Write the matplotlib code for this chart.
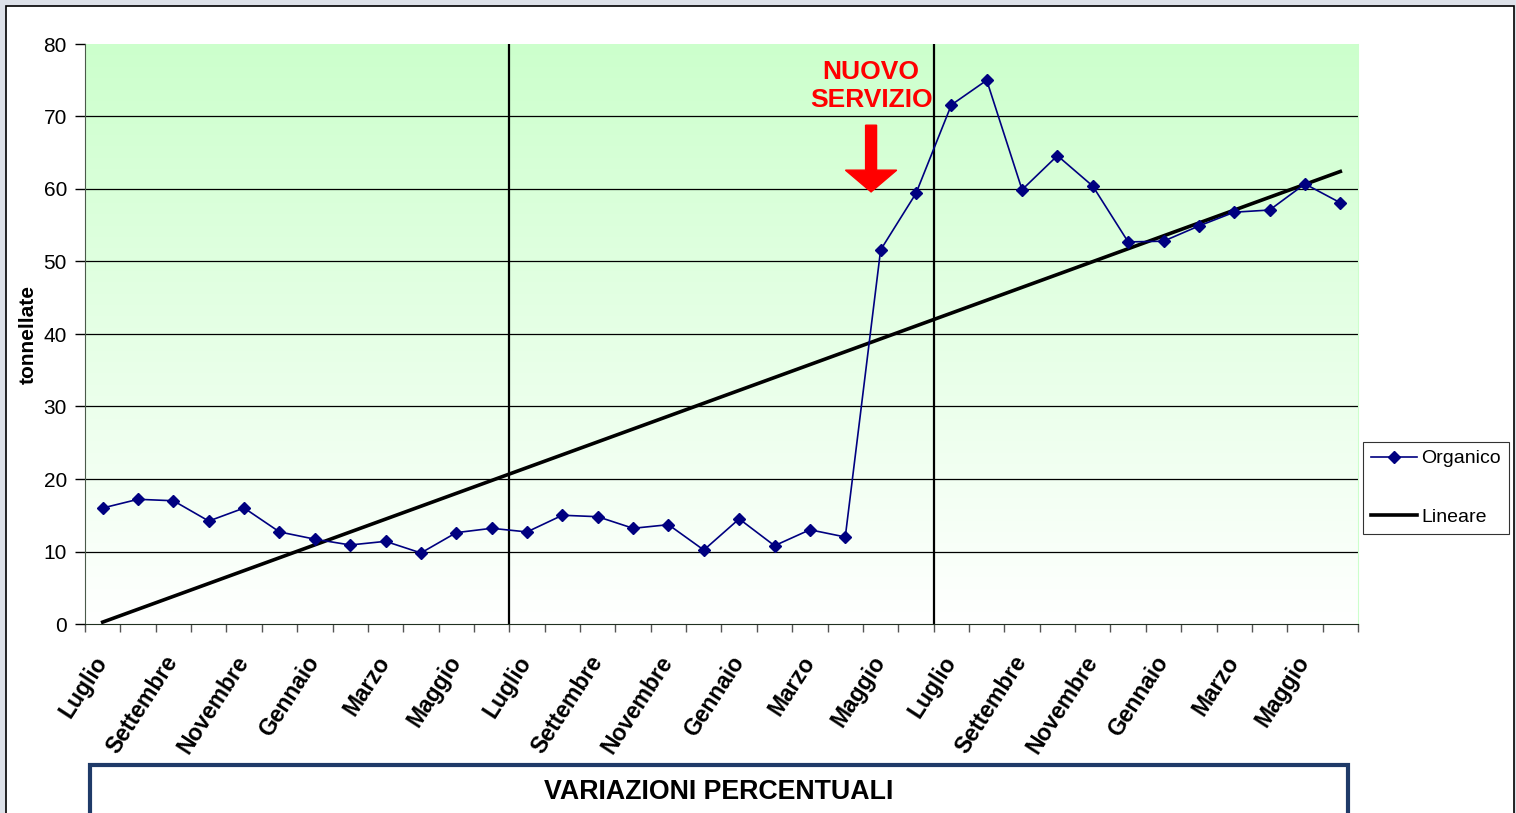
import numpy as np
import matplotlib
matplotlib.use("Agg")
import matplotlib.pyplot as plt
from matplotlib.patches import Rectangle, FancyArrow
from matplotlib.colors import LinearSegmentedColormap
from matplotlib.transforms import ScaledTranslation

plt.rcParams['font.family'] = ['Liberation Sans', 'DejaVu Sans']

months = ["Luglio", "Agosto", "Settembre", "Ottobre", "Novembre", "Dicembre",
          "Gennaio", "Febbraio", "Marzo", "Aprile", "Maggio", "Giugno"] * 3
organico = [16.0, 17.2, 17.0, 14.2, 16.0, 12.7, 11.7, 10.9, 11.4, 9.8, 12.6, 13.2,
            12.7, 15.0, 14.8, 13.2, 13.7, 10.2, 14.5, 10.8, 13.0, 12.0, 51.6, 59.4,
            71.6, 75.0, 59.9, 64.6, 60.4, 52.7, 52.8, 54.9, 56.8, 57.1, 60.7, 58.1]
yticks = [0, 10, 20, 30, 40, 50, 60, 70, 80]

x = np.arange(len(organico))
coef = np.polyfit(x, organico, 1)
trend = np.polyval(coef, x)

W, H = 1516, 813
fig = plt.figure(figsize=(W / 100, H / 100), dpi=100)
fig.patch.set_facecolor('#dde1e9')
fig.patches.append(Rectangle((6 / W, -0.01), (1514 - 6) / W, 1 - 6 / H + 0.01,
                             transform=fig.transFigure, facecolor='white',
                             edgecolor='black', lw=1.2, zorder=-5))

ax = fig.add_axes([85 / W, 1 - 624 / H, (1358 - 85) / W, (624 - 44) / H])
ax.set_zorder(2)
ax.set_facecolor('white')

# gradient background
cmap = LinearSegmentedColormap.from_list('g', ['#ffffff', '#ccffcc'])
grad = np.linspace(0, 1, 256).reshape(-1, 1)
ax.imshow(grad, aspect='auto', cmap=cmap, origin='lower',
          extent=[-0.5, len(organico) - 0.5, 0, 80], zorder=0)

ax.set_xlim(-0.5, len(organico) - 0.5)
ax.set_ylim(0, 80)

for yv in yticks[1:-1]:
    ax.axhline(yv, color='black', lw=0.9, zorder=1)
ax.axvline(11.5, color='black', lw=1.6, zorder=2)
ax.axvline(23.5, color='black', lw=1.6, zorder=2)

ax.plot(x, organico, color='#000080', lw=1.2, marker='D', markersize=6.5,
        markerfacecolor='#000080', markeredgecolor='#000080', zorder=4, label='Organico')
ax.plot(x, trend, color='black', lw=2.6, zorder=3, label='Lineare')

ax.set_yticks(yticks)
ax.set_yticklabels([str(v) for v in yticks], fontsize=15)
ax.tick_params(axis='y', length=7, width=1, color='black', pad=6)

ax.set_xticks(x[::2])
ax.set_xticklabels(months[::2], rotation=57, ha='right', va='top',
                   rotation_mode='anchor', fontsize=16.5, fontweight='bold')
ax.tick_params(axis='x', which='major', length=0, pad=20)
ax.set_xticks(np.arange(-0.5, len(organico), 1), minor=True)
ax.tick_params(axis='x', which='minor', length=6, width=1, color='#555555')
shift = ScaledTranslation(-10 / 100, 0, fig.dpi_scale_trans)
for lbl in ax.get_xticklabels():
    lbl.set_transform(lbl.get_transform() + shift)

ax.spines['top'].set_visible(False)
ax.spines['right'].set_color('#ccffcc')
ax.spines['left'].set_color('#4a5a4a')
ax.spines['bottom'].set_color('#203020')

ax.set_ylabel('tonnellate', fontsize=15, fontweight='bold', labelpad=4)

# annotation
ax.text(21.73, 74.2, "NUOVO\nSERVIZIO", color='#ff0000', fontsize=19, fontweight='bold',
        ha='center', va='center', linespacing=1.2, zorder=6)
ax.add_patch(FancyArrow(21.73, 68.8, 0, -9.2, width=0.31, head_width=1.45,
                        head_length=3.0, length_includes_head=True,
                        color='#ff0000', zorder=6))

leg = ax.legend(loc='upper left', bbox_to_anchor=(1363 / W, 1 - 442 / H),
                bbox_transform=fig.transFigure, fontsize=14, frameon=True,
                fancybox=False, edgecolor='black', labelspacing=2.1,
                handlelength=2.4, handletextpad=0.2, borderpad=0.4,
                borderaxespad=0)
leg.get_frame().set_linewidth(0.8)

# bottom box
fig.patches.append(Rectangle((90 / W, -0.05), (1348 - 90) / W, 0.05 + (813 - 765) / H,
                             transform=fig.transFigure, facecolor='white',
                             edgecolor='#1f3a68', lw=3, zorder=3))
fig.text(719 / W, 1 - 792 / H, "VARIAZIONI PERCENTUALI", fontsize=19.3,
         fontweight='bold', ha='center', va='center', zorder=4)

fig.savefig('out.png', dpi=100, facecolor=fig.get_facecolor())
